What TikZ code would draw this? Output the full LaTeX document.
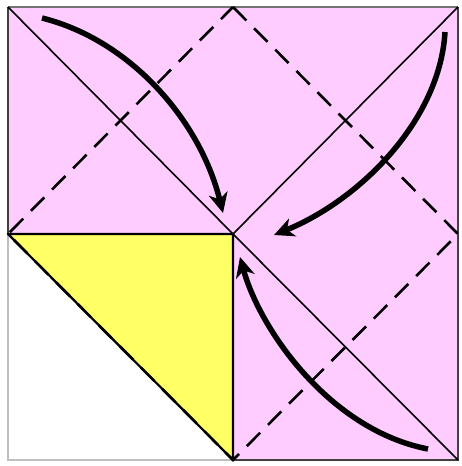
\documentclass[tikz,border=0pt]{standalone}
\usetikzlibrary{arrows.meta}
\definecolor{pinkfill}{RGB}{255,204,255}
\definecolor{yellowfill}{RGB}{255,255,102}
\tikzset{
  thinline/.style={line width=1.6pt, black},
  foldline/.style={line width=2.6pt, black, dash pattern=on 19pt off 11pt},
  movearrow/.style={line width=5.5pt, black, -{Stealth[length=20pt,width=19pt,inset=6pt]}},
}
\begin{document}
\begin{tikzpicture}[x=1pt,y=-1pt]
\useasboundingbox (0,0) rectangle (461,466);
\coordinate (TL) at (8,7);
\coordinate (TR) at (458,7);
\coordinate (BR) at (458,460);
\coordinate (BL) at (8,460);
\coordinate (C) at (233,234);
\coordinate (T) at (233,7);
\coordinate (R) at (458,234);
\coordinate (B) at (233,460);
\coordinate (L) at (8,234);
% fills
\fill[pinkfill] (TL) -- (TR) -- (BR) -- (B) -- (C) -- (L) -- cycle;
\fill[white] (L) -- (B) -- (BL) -- cycle;
\fill[yellowfill] (L) -- (C) -- (B) -- cycle;
% outer border
\draw[line width=2.4pt, black!55] (TL) -- (TR);
\draw[line width=2.4pt, black!75] (TR) -- (BR) -- (B);
\draw[line width=2.4pt, black!75] (L) -- (TL);
\draw[line width=2pt, black!25] (B) -- (BL) -- (L);
% solid creases
\draw[thinline] (TL) -- (C);
\draw[thinline] (TR) -- (C);
\draw[thinline] (C) -- (BR);
\draw[line width=2.2pt, line join=round] (L) -- (C) -- (B) -- cycle;
% dashed diamond
\draw[foldline] (T) -- (R) -- (B) -- (L) -- cycle;
% arrows
\coordinate (a1s) at (42,18);
\coordinate (a1e) at (223,213);
\coordinate (a2s) at (445,32);
\coordinate (a2e) at (274,235);
\coordinate (a3s) at (428,449);
\coordinate (a3e) at (240,257);
\draw[movearrow] (a1s) .. controls (130,40) and (200,120) .. (a1e);
\draw[movearrow] (a2s) .. controls (440,120) and (360,200) .. (a2e);
\draw[movearrow] (a3s) .. controls (330,430) and (260,330) .. (a3e);
\end{tikzpicture}
\end{document}
